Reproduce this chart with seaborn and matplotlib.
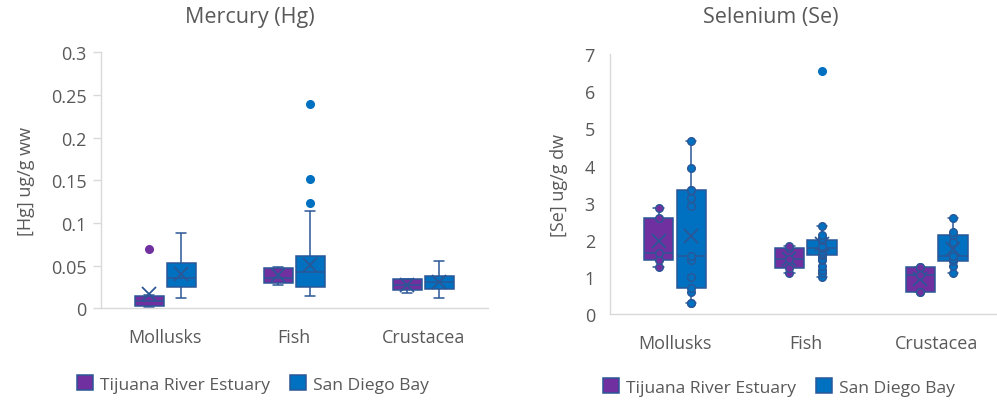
import numpy as np
import pandas as pd
import matplotlib
matplotlib.use("Agg")
import matplotlib.pyplot as plt
import seaborn as sns

# ---- data -------------------------------------------------------------
taxa = ["Mollusks", "Fish", "Crustacea"]
sites = ["Tijuana River Estuary", "San Diego Bay"]

# Mercury, ug/g wet weight
hg_mollusks_tre = [0.002, 0.002, 0.004, 0.008, 0.012, 0.016, 0.070]
hg_mollusks_sdb = [0.012, 0.020, 0.025, 0.030, 0.035, 0.042, 0.053, 0.055, 0.088]
hg_fish_tre = [0.027, 0.030, 0.030, 0.035, 0.036, 0.046, 0.047, 0.048, 0.048]
hg_fish_sdb = [0.014, 0.014, 0.014, 0.015, 0.016, 0.017, 0.018, 0.025,
               0.025, 0.025, 0.026, 0.027, 0.028, 0.030, 0.043,
               0.043, 0.043, 0.044, 0.045, 0.046, 0.048, 0.061,
               0.061, 0.062, 0.063, 0.114, 0.123, 0.151, 0.239]
hg_crust_tre = [0.018, 0.021, 0.027, 0.034, 0.034]
hg_crust_sdb = [0.012, 0.020, 0.023, 0.027, 0.031, 0.035, 0.0375, 0.0385, 0.055]

# Selenium, ug/g dry weight
se_mollusks_tre = [1.28, 1.45, 1.65, 2.59, 2.86]
se_mollusks_sdb = [0.30, 0.30, 0.59, 0.70, 1.01, 1.47, 1.56, 2.92, 3.14,
                   3.35, 3.35, 3.94, 4.67]
se_fish_tre = [1.10, 1.24, 1.49, 1.78, 1.83]
se_fish_sdb = [1.01, 1.10, 1.20, 1.30, 1.45, 1.50, 1.59, 1.59, 1.60,
               1.62, 1.65, 1.70, 1.79, 1.79, 1.80, 1.81, 1.83, 1.85,
               2.01, 2.02, 2.03, 2.05, 2.13, 2.38, 6.55]
se_crust_tre = [0.59, 0.59, 1.06, 1.28, 1.28]
se_crust_sdb = [1.10, 1.30, 1.42, 1.50, 1.56, 1.95, 2.14, 2.22, 2.59]

hg_ticks = [0, 0.05, 0.1, 0.15, 0.2, 0.25, 0.3]
hg_ticklabels = ["0", "0.05", "0.1", "0.15", "0.2", "0.25", "0.3"]
se_ticks = [0, 1, 2, 3, 4, 5, 6, 7]
se_ticklabels = ["0", "1", "2", "3", "4", "5", "6", "7"]


def long_table(groups):
    rows = []
    for (taxon, site), vals in groups.items():
        rows += [{"taxon": taxon, "site": site, "value": v} for v in vals]
    return pd.DataFrame(rows)


hg = long_table({
    ("Mollusks", sites[0]): hg_mollusks_tre, ("Mollusks", sites[1]): hg_mollusks_sdb,
    ("Fish", sites[0]): hg_fish_tre, ("Fish", sites[1]): hg_fish_sdb,
    ("Crustacea", sites[0]): hg_crust_tre, ("Crustacea", sites[1]): hg_crust_sdb,
})
se = long_table({
    ("Mollusks", sites[0]): se_mollusks_tre, ("Mollusks", sites[1]): se_mollusks_sdb,
    ("Fish", sites[0]): se_fish_tre, ("Fish", sites[1]): se_fish_sdb,
    ("Crustacea", sites[0]): se_crust_tre, ("Crustacea", sites[1]): se_crust_sdb,
})

# ---- style ------------------------------------------------------------
sns.set_theme(style="white")
plt.rcParams["font.family"] = ["Open Sans", "DejaVu Sans"]

site_colors = ["#7030A0", "#0070C0"]
line_color = "#2B5797"
text_color = "#595959"
spine_color = "#D9D9D9"
FS = 13

W, H = 997, 402
fig = plt.figure(figsize=(W / 100, H / 100), dpi=100)


def px_axes(left, top, right, bottom):
    return fig.add_axes([left / W, 1 - bottom / H, (right - left) / W, (bottom - top) / H])


def draw(ax, df, ylim, ticks, ticklabels, ylabel, inner_points, yticks_marks):
    sns.boxplot(
        data=df, x="taxon", y="value", hue="site",
        order=taxa, hue_order=sites, palette=site_colors,
        width=0.5, gap=0.1, whis=1.5,
        linecolor=line_color, linewidth=1.1, fliersize=5.5,
        showmeans=True,
        meanprops=dict(marker="x", markeredgecolor=line_color,
                       markerfacecolor=line_color, markersize=10.5,
                       markeredgewidth=1.3),
        saturation=1, ax=ax,
    )
    # per-site colouring of outliers, shorter caps
    for cont, color in zip(ax.containers, site_colors):
        for fl in cont.fliers:
            fl.set_marker("o")
            fl.set_markerfacecolor(color)
            fl.set_markeredgecolor(color)
            fl.set_markersize(5.5)
        for cap in cont.caps:
            x = np.asarray(cap.get_xdata(), dtype=float)
            c, half = x.mean(), (x.max() - x.min()) / 2 * 0.7
            cap.set_xdata([c - half, c + half])

    if inner_points:
        for cont, site, color in zip(ax.containers, sites, site_colors):
            for i, taxon in enumerate(taxa):
                verts = cont.boxes[i].get_path().vertices
                xc = (verts[:, 0].min() + verts[:, 0].max()) / 2
                vals = df[(df.taxon == taxon) & (df.site == site)]["value"].to_numpy()
                q1, q3 = np.percentile(vals, [25, 75])
                iqr = q3 - q1
                keep = vals[(vals >= q1 - 1.5 * iqr) & (vals <= q3 + 1.5 * iqr)]
                ax.plot(np.full(len(keep), xc), keep, ls="none", marker="o",
                        markersize=5.5, markerfacecolor=color,
                        markeredgecolor=line_color, markeredgewidth=1.0,
                        zorder=4)

    ax.set_xlim(-0.5, 2.5)
    ax.set_ylim(*ylim)
    ax.set_yticks(ticks)
    ax.set_yticklabels(ticklabels)
    ax.set_xlabel("")
    ax.set_ylabel(ylabel, fontsize=FS, color=text_color)
    for s in ["top", "right"]:
        ax.spines[s].set_visible(False)
    for s in ["left", "bottom"]:
        ax.spines[s].set_color(spine_color)
        ax.spines[s].set_linewidth(1.0)
    ax.tick_params(axis="x", length=0, pad=14.5, labelsize=FS, labelcolor=text_color)
    if yticks_marks:
        ax.tick_params(axis="y", length=6, width=1.0, color=spine_color, pad=4,
                       labelsize=FS, labelcolor=text_color, left=True)
    else:
        ax.tick_params(axis="y", length=0, pad=10.5, labelsize=FS, labelcolor=text_color)
    handles, labels = ax.get_legend_handles_labels()
    if ax.get_legend() is not None:
        ax.get_legend().remove()
    return handles, labels


ax1 = px_axes(100.7, 53.3, 487.7, 309.3)
h1, l1 = draw(ax1, hg, (0, 0.3), hg_ticks, hg_ticklabels, "[Hg] ug/g ww", False, True)
ax1.yaxis.set_label_coords(-(100.7 - 35) / 387, 0.5)

ax2 = px_axes(609.5, 55.0, 1002.0, 315.3)
h2, l2 = draw(ax2, se, (0, 7), se_ticks, se_ticklabels, "[Se] ug/g dw", True, False)
ax2.yaxis.set_label_coords(-(609.5 - 568) / 392.5, 0.5)

fig.text(250 / W, 1 - 18 / H, "Mercury (Hg)", ha="center", va="center",
         fontsize=15.5, color=text_color)
fig.text(771 / W, 1 - 18 / H, "Selenium (Se)", ha="center", va="center",
         fontsize=15.5, color=text_color)

leg_kw = dict(loc="center", ncol=2, frameon=False, fontsize=12.6,
              labelcolor=text_color, handlelength=0.95, handleheight=0.95,
              handletextpad=0.4, columnspacing=1.1)
fig.legend(h1, l1, bbox_to_anchor=(253 / W, 1 - 385 / H), **leg_kw)
fig.legend(h2, l2, bbox_to_anchor=(779 / W, 1 - 388 / H), **leg_kw)

fig.savefig("out.png", dpi=100)
